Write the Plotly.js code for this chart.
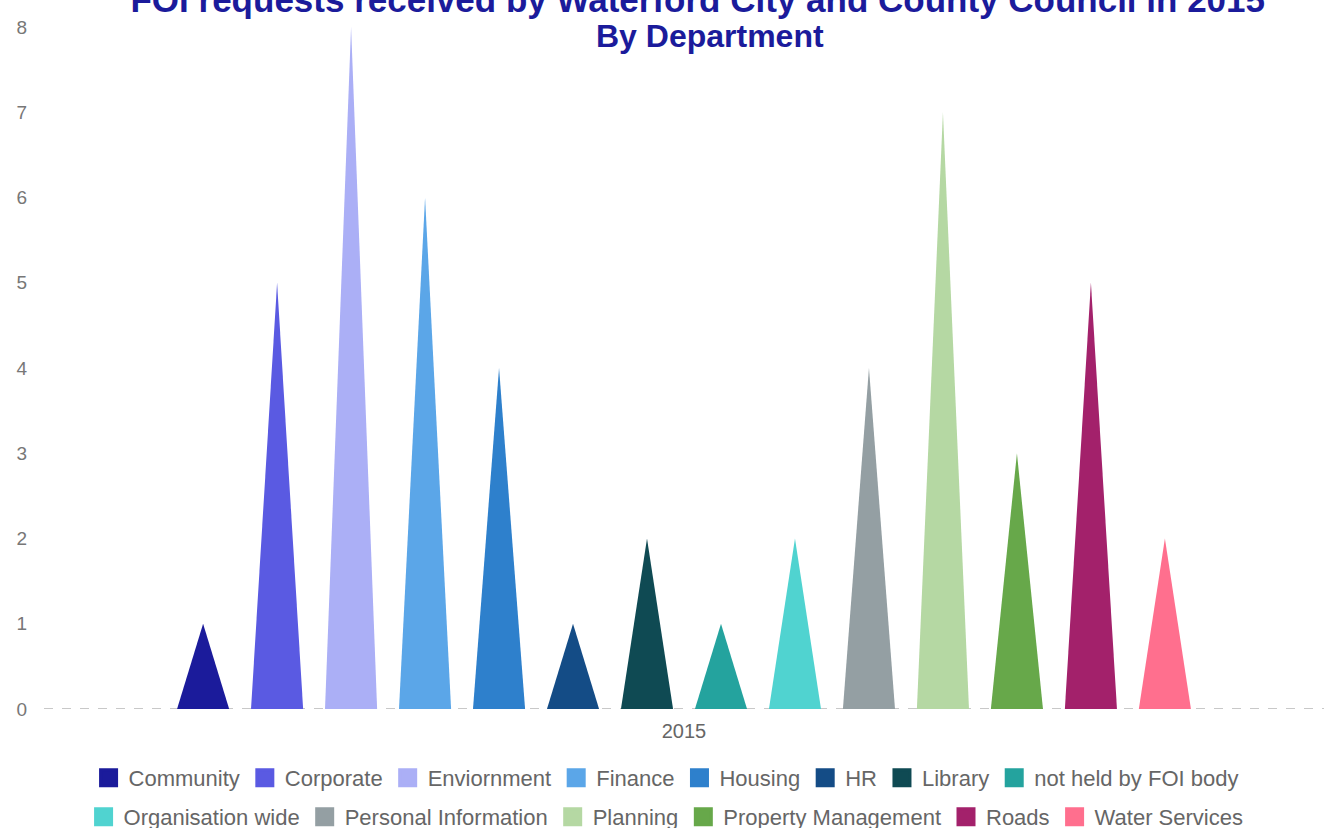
<!DOCTYPE html>
<html>
<head>
<meta charset="utf-8">
<script src="https://cdn.plot.ly/plotly-3.0.1.min.js"></script>
<style>html,body{margin:0;padding:0;background:#fff;}#chart{width:1324px;height:828px;}</style>
</head>
<body>
<div id="chart"></div>
<script>
// ---- data ----
const years = ['2015'];
const departments = ['Community','Corporate','Enviornment','Finance','Housing','HR','Library','not held by FOI body','Organisation wide','Personal Information','Planning','Property Management','Roads','Water Services'];
const requests = [1, 5, 8, 6, 4, 1, 2, 1, 2, 4, 7, 3, 5, 2];
const colors = ['#1b1b9b','#5a5ae2','#abaff6','#5ba6e8','#2e80cc','#144c86','#0f4a53','#24a39e','#50d3d0','#949fa3','#b5d8a3','#67a84a','#a3216b','#ff6f8e'];
const yTicks = [0,1,2,3,4,5,6,7,8];

// ---- layout constants ----
const slot = 0.0578;     // horizontal spacing per series within the category
const baseW = 0.0407;    // base width of each pyramid
const n = departments.length;
const firstRowCount = 8; // legend entries in the first row

const traces = [];
departments.forEach((d, i) => {
  const c = (i - (n - 1) / 2) * slot;
  traces.push({
    type: 'scatter', mode: 'lines', fill: 'toself',
    x: [c - baseW / 2, c, c + baseW / 2, c - baseW / 2],
    y: [0, requests[i], 0, 0],
    line: {width: 0, color: colors[i]}, fillcolor: colors[i],
    name: d, legendgroup: d, showlegend: false, hoverinfo: 'name+y'
  });
});
departments.forEach((d, i) => {
  traces.push({
    type: 'scatter', mode: 'markers', x: [null], y: [null],
    marker: {symbol: 'square', size: 16, color: colors[i], line: {width: 3, color: colors[i]}},
    name: d, legendgroup: d, showlegend: true,
    legend: i < firstRowCount ? 'legend' : 'legend2'
  });
});

const legendBase = {
  orientation: 'h', xanchor: 'center', yanchor: 'middle', yref: 'container',
  font: {size: 22, color: '#666'}, itemwidth: 30, bgcolor: 'rgba(0,0,0,0)'
};

const layout = {
  width: 1324, height: 828,
  paper_bgcolor: '#fff', plot_bgcolor: '#fff',
  margin: {l: 44, r: 0, t: 27, b: 119},
  font: {family: 'Liberation Sans, Arial, sans-serif', color: '#666'},
  title: {
    text: 'FOI requests received by Waterford City and County Council in 2015',
    font: {size: 35, color: '#1b1b9b', weight: 'bold'},
    x: 0.527, xanchor: 'center', y: 1, yref: 'container', yanchor: 'middle'
  },
  annotations: [{
    text: '<b>By Department</b>', xref: 'paper', yref: 'paper', x: 0.52, y: (709 - 36) / 682,
    xanchor: 'center', yanchor: 'middle', showarrow: false,
    font: {size: 32, color: '#1b1b9b'}
  }],
  xaxis: {
    range: [-0.5, 0.5], tickvals: [0], ticktext: years,
    showgrid: false, zeroline: false, showline: false, ticks: '',
    tickfont: {size: 20, color: '#666'}, ticklabelstandoff: 8
  },
  yaxis: {
    range: [0, 8], tickvals: yTicks, showgrid: false, zeroline: false,
    showline: false, ticks: '', tickfont: {size: 19, color: '#777'}, ticklabelstandoff: 16
  },
  shapes: [{
    type: 'line', xref: 'paper', yref: 'y', x0: 0, x1: 1, y0: 0, y1: 0,
    line: {color: '#c8c8c8', width: 2, dash: 'dash'}, layer: 'below'
  }],
  legend: Object.assign({}, legendBase, {x: 0.486, y: (828 - 778) / 828}),
  legend2: Object.assign({}, legendBase, {x: 0.486, y: (828 - 817) / 828}),
  showlegend: true
};

Plotly.newPlot('chart', traces, layout, {displayModeBar: false, staticPlot: true});
</script>
</body>
</html>
